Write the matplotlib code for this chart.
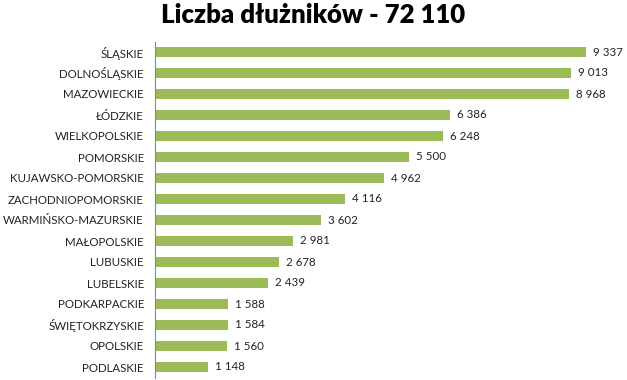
import matplotlib.pyplot as plt

regiony = ["ŚLĄSKIE", "DOLNOŚLĄSKIE", "MAZOWIECKIE", "ŁÓDZKIE", "WIELKOPOLSKIE",
           "POMORSKIE", "KUJAWSKO-POMORSKIE", "ZACHODNIOPOMORSKIE",
           "WARMIŃSKO-MAZURSKIE", "MAŁOPOLSKIE", "LUBUSKIE", "LUBELSKIE",
           "PODKARPACKIE", "ŚWIĘTOKRZYSKIE", "OPOLSKIE", "PODLASKIE"]
dluznicy = [9337, 9013, 8968, 6386, 6248, 5500, 4962, 4116,
            3602, 2981, 2678, 2439, 1588, 1584, 1560, 1148]
tytul = "Liczba dłużników - 72 110"

plt.rcParams['font.family'] = ['Lato', 'DejaVu Sans']

fig = plt.figure(figsize=(6.27, 3.80), dpi=100)
ax = fig.add_axes([155 / 627, 2.5 / 380, 1 - 155 / 627, 336 / 380])

pos = list(range(len(regiony)))
ax.barh(pos, dluznicy, height=0.43, color="#9BBB59")
for p, v in zip(pos, dluznicy):
    ax.text(v + 150, p, f"{v:,}".replace(",", " "), va="center", ha="left",
            fontsize=8.3, color="#222222")

ax.set_ylim(len(regiony) - 0.5, -0.5)
ax.set_xlim(0, 10225)
ax.set_yticks(pos)
ax.set_yticklabels(regiony, fontsize=8.3, color="#222222")
ax.tick_params(axis="y", length=0, pad=8)
ax.set_xticks([])
for s in ["top", "right", "bottom"]:
    ax.spines[s].set_visible(False)
ax.spines["left"].set_color("#868686")
ax.spines["left"].set_linewidth(0.8)

fig.text(0.5, 1 - 15 / 380, tytul, ha="center", va="center",
         fontsize=18.5, fontweight="heavy", color="black")

fig.savefig("out.png", dpi=100)
